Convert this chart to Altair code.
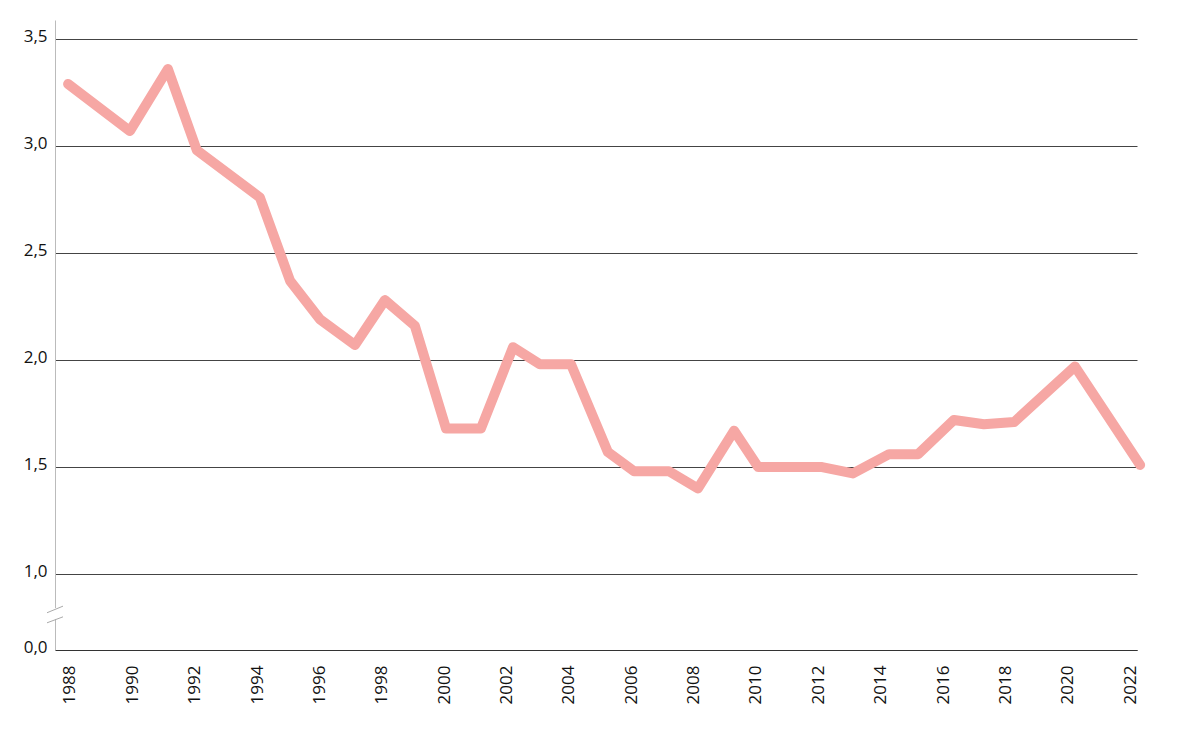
import altair as alt
import pandas as pd

# positions along the time axis and values
years = [1987.94, 1989.92, 1991.14, 1992.07, 1994.09, 1995.06, 1996.02, 1997.14,
         1998.10, 1999.06, 2000.06, 2001.18, 2002.21, 2003.07, 2004.07, 2005.25,
         2006.09, 2007.21, 2008.14, 2009.30, 2010.07, 2011.09, 2012.12, 2013.11,
         2014.27, 2015.20, 2016.35, 2017.31, 2018.28, 2020.23, 2022.32]
values = [3.29, 3.07, 3.36, 2.98, 2.76, 2.37, 2.19, 2.07,
          2.28, 2.16, 1.68, 1.68, 2.06, 1.98, 1.98, 1.57,
          1.48, 1.48, 1.40, 1.67, 1.50, 1.50, 1.50, 1.47,
          1.56, 1.56, 1.72, 1.70, 1.71, 1.97, 1.51]

x_ticks = list(range(1988, 2023, 2))
y_bottom = 0.645   # broken-axis position standing for 0,0
y_ticks = [y_bottom, 1.0, 1.5, 2.0, 2.5, 3.0, 3.5]

df = pd.DataFrame({"year": years, "value": values})

FONT = "Open Sans"
x_scale = alt.Scale(domain=[1987.52, 2022.22], nice=False, zero=False)
y_scale = alt.Scale(domain=[y_bottom, 3.589], nice=False, zero=False)

line = alt.Chart(df).mark_line(
    color="#f6a7a4", strokeWidth=10, strokeCap="round", strokeJoin="round", clip=False
).encode(
    x=alt.X("year:Q", scale=x_scale,
            axis=alt.Axis(values=x_ticks, format="d", labelAngle=-90, labelAlign="right",
                          labelBaseline="middle", labelPadding=15, ticks=False,
                          grid=False, domainColor="#333333", domainWidth=1,
                          labelFont=FONT, labelFontSize=17, labelColor="#111111",
                          title=None, labelFlush=False, labelOverlap=False)),
    y=alt.Y("value:Q", scale=y_scale,
            axis=alt.Axis(values=y_ticks,
                          labelExpr="datum.value < 0.9 ? '0,0' : replace(format(datum.value, '.1f'), '.', ',')",
                          labelBaseline="alphabetic", labelOffset=2, labelPadding=8,
                          ticks=False, grid=True, gridColor="#444444", gridWidth=1,
                          domainColor="#bbbbbb", domainWidth=1,
                          labelFont=FONT, labelFontSize=17, labelColor="#111111",
                          title=None, labelFlush=False, labelOverlap=False)),
)

# broken-axis decoration: white gap and two slashes
gap_df = pd.DataFrame({"y1": [0.790], "y2": [0.841]})
gap = alt.Chart(gap_df).mark_rule(color="white", strokeWidth=4).encode(
    x=alt.value(0), y="y1:Q", y2="y2:Q"
)
slash_df = pd.DataFrame({"y1": [0.819, 0.772], "y2": [0.850, 0.800]})
slashes = alt.Chart(slash_df).mark_rule(color="#aaaaaa", strokeWidth=1).encode(
    x=alt.value(-8), x2=alt.value(8), y="y1:Q", y2="y2:Q"
)

chart = alt.layer(gap, slashes, line).properties(
    width=1082, height=630,
    autosize=alt.AutoSizeParams(type="none"),
    padding={"left": 47, "top": 12, "right": 50, "bottom": 70},
).configure_view(stroke=None)

chart.save("out.html", embed_options={"renderer": "svg", "actions": False})
